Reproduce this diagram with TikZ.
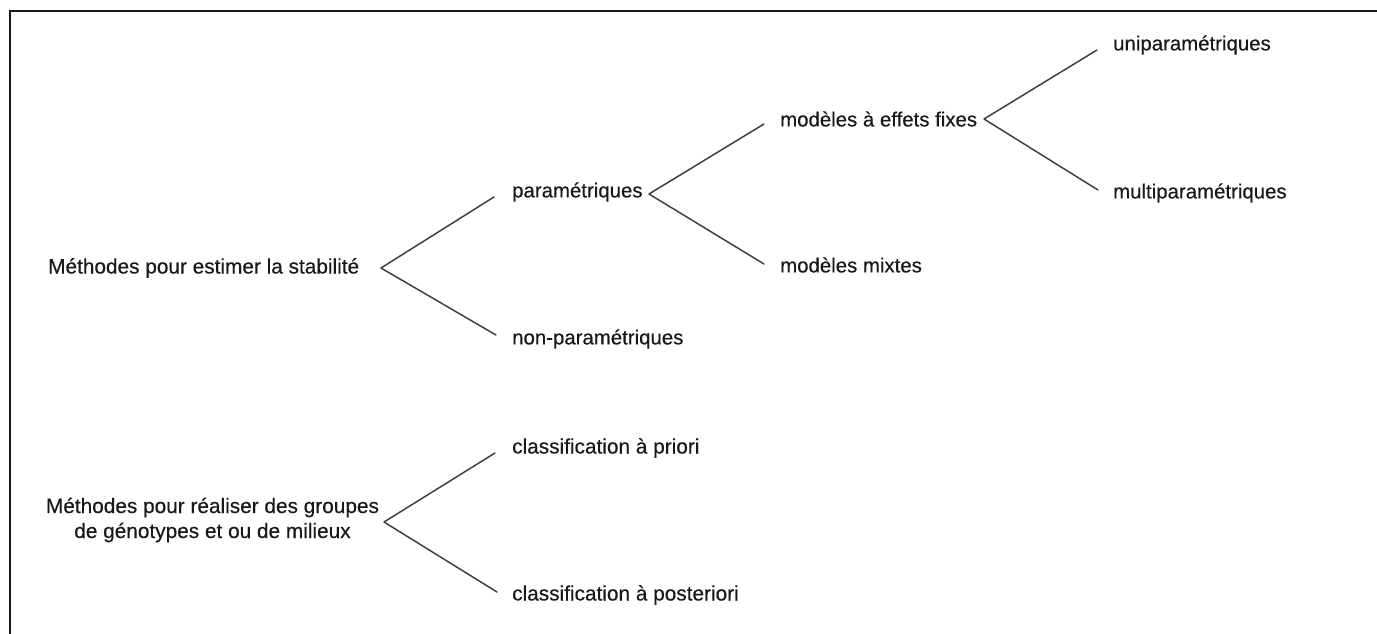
\documentclass[tikz,border=0pt]{standalone}
\usepackage{fontspec}
\setmainfont{Liberation Sans}[FakeBold=0.4]
\begin{document}
\begin{tikzpicture}[x=1pt,y=-1pt,
  big/.style={inner sep=0pt,font=\fontsize{20.8}{25}\selectfont,text=black!90},
  mid/.style={inner sep=0pt,anchor=west,font=\fontsize{20.4}{24}\selectfont,text=black!90},
  branch/.style={draw=black!75,line width=1.5pt,line cap=round,line join=round}]
\useasboundingbox (0,0) rectangle (1377,634);
\draw[line width=2.2pt,black!90] (10,634) -- (10,11) -- (1377,11);
% nodes
\node[big,anchor=west] (l1) at (48,268) {Méthodes pour estimer la stabilité};
\node[mid] (p) at (512,192) {paramétriques};
\node[mid] (np) at (512,339) {non-paramétriques};
\node[mid] (f) at (780,119) {modèles à effets fixes};
\node[mid] (m) at (780,265) {modèles mixtes};
\node[mid] (u) at (1113,45) {uniparamétriques};
\node[mid] (mu) at (1113,193) {multiparamétriques};
\node[big,align=center] (l2) at (212.5,520) {Méthodes pour réaliser des groupes\\de génotypes et ou de milieux};
\node[big,anchor=west] (cp) at (512,448) {classification à priori};
\node[big,anchor=west] (cq) at (512,595) {classification à posteriori};
% branch points
\coordinate (v1) at (381,268);
\coordinate (a1) at (494,197);
\coordinate (b1) at (496,335);
\coordinate (v2) at (649,194);
\coordinate (a2) at (764,124);
\coordinate (b2) at (764,264);
\coordinate (v3) at (984,119);
\coordinate (a3) at (1097,50);
\coordinate (b3) at (1098,190);
\coordinate (v4) at (384,522);
\coordinate (a4) at (495,453);
\coordinate (b4) at (497,592);
\draw[branch] (a1) -- (v1) -- (b1);
\draw[branch] (a2) -- (v2) -- (b2);
\draw[branch] (a3) -- (v3) -- (b3);
\draw[branch] (a4) -- (v4) -- (b4);
\end{tikzpicture}
\end{document}
